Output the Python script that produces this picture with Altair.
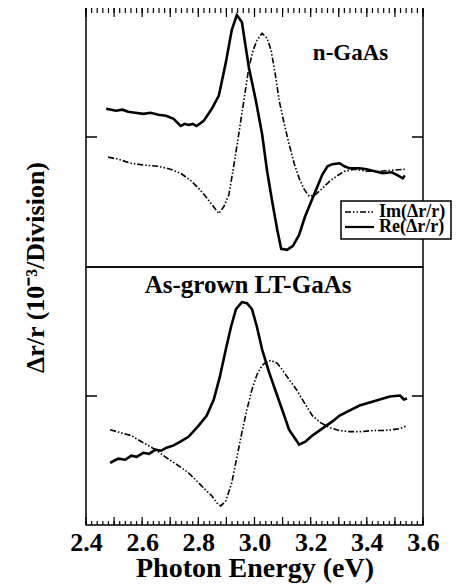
import altair as alt
import pandas as pd

# ---------------- data ----------------
top_re_x = [2.472, 2.507, 2.530, 2.550, 2.575, 2.604, 2.630, 2.658, 2.685, 2.712, 2.737, 2.752, 2.765, 2.780, 2.794,
            2.819, 2.848, 2.873, 2.898, 2.919, 2.937, 2.955, 2.980, 3.005, 3.027, 3.045, 3.063, 3.081, 3.095,
            3.116, 3.137, 3.159, 3.180, 3.202, 3.224, 3.242, 3.260, 3.277, 3.303, 3.320, 3.338, 3.374, 3.399,
            3.428, 3.457, 3.489, 3.510, 3.528, 3.535]
top_re_y = [0.217, 0.202, 0.210, 0.194, 0.186, 0.178, 0.186, 0.171, 0.163, 0.140, 0.085, 0.101, 0.093, 0.101, 0.085,
            0.124, 0.217, 0.318, 0.574, 0.822, 0.938, 0.884, 0.535, 0.279, 0.023, -0.264, -0.496, -0.713, -0.860,
            -0.868, -0.837, -0.752, -0.612, -0.496, -0.380, -0.287, -0.225, -0.209, -0.202, -0.225, -0.240,
            -0.240, -0.248, -0.264, -0.279, -0.271, -0.295, -0.318, -0.295]

top_im_x = [2.479, 2.515, 2.561, 2.611, 2.658, 2.701, 2.737, 2.772, 2.801, 2.826, 2.848, 2.873, 2.891, 2.909,
            2.926, 2.944, 2.962, 2.980, 2.995, 3.009, 3.027, 3.045, 3.059, 3.073, 3.088, 3.106, 3.123, 3.141,
            3.159, 3.177, 3.195, 3.217, 3.242, 3.267, 3.292, 3.320, 3.356, 3.399, 3.446, 3.489, 3.535]
top_im_y = [-0.155, -0.171, -0.202, -0.217, -0.225, -0.248, -0.279, -0.333, -0.395, -0.457, -0.519, -0.589,
            -0.535, -0.442, -0.225, 0.023, 0.279, 0.535, 0.667, 0.744, 0.798, 0.760, 0.667, 0.496, 0.279,
            0.101, -0.054, -0.202, -0.318, -0.403, -0.457, -0.442, -0.395, -0.341, -0.302, -0.264, -0.248,
            -0.264, -0.264, -0.256, -0.248]

bot_re_x = [2.486, 2.500, 2.515, 2.540, 2.561, 2.580, 2.604, 2.625, 2.647, 2.668, 2.687, 2.710, 2.730, 2.765,
            2.801, 2.830, 2.855, 2.876, 2.898, 2.916, 2.934, 2.955, 2.973, 2.991, 3.009, 3.027, 3.052, 3.077,
            3.102, 3.123, 3.145, 3.159, 3.181, 3.206, 3.231, 3.256, 3.281, 3.303, 3.338, 3.374, 3.410, 3.446,
            3.482, 3.518, 3.532, 3.543]
bot_re_y = [-0.518, -0.502, -0.486, -0.494, -0.463, -0.471, -0.440, -0.448, -0.416, -0.424, -0.401, -0.385,
            -0.362, -0.316, -0.230, -0.152, -0.027, 0.144, 0.362, 0.533, 0.673, 0.728, 0.720, 0.673, 0.533,
            0.362, 0.183, 0.027, -0.128, -0.261, -0.331, -0.377, -0.354, -0.307, -0.268, -0.230, -0.191,
            -0.152, -0.113, -0.074, -0.051, -0.027, -0.004, 0.004, -0.027, -0.019]

bot_im_x = [2.486, 2.522, 2.561, 2.604, 2.647, 2.687, 2.730, 2.765, 2.801, 2.826, 2.848, 2.866, 2.880, 2.898,
            2.919, 2.937, 2.955, 2.973, 2.991, 3.009, 3.027, 3.045, 3.059, 3.081, 3.098, 3.123, 3.149, 3.177,
            3.206, 3.235, 3.267, 3.303, 3.338, 3.381, 3.421, 3.457, 3.493, 3.518, 3.543]
bot_im_y = [-0.261, -0.284, -0.307, -0.362, -0.416, -0.479, -0.541, -0.595, -0.673, -0.728, -0.774, -0.829,
            -0.852, -0.813, -0.673, -0.479, -0.284, -0.105, 0.051, 0.167, 0.237, 0.268, 0.276, 0.253, 0.206,
            0.128, 0.051, -0.051, -0.152, -0.206, -0.245, -0.268, -0.276, -0.276, -0.268, -0.268, -0.261,
            -0.253, -0.230]

x_labels = [2.4, 2.6, 2.8, 3.0, 3.2, 3.4, 3.6]
minor_ticks = [round(2.4 + 0.02 * i, 2) for i in range(61)]
major_ticks = [round(2.4 + 0.1 * i, 1) for i in range(13)]

# ---------------- layout ----------------
W, H_TOP, H_BOT = 337, 260, 258
FONT = "Liberation Serif"
XDOM = [2.4, 3.6]
YDOM = [-1, 1]
SIDE_LEN = 11
DASH = [6, 2, 1.5, 2, 1.5, 2]

xs = alt.Scale(domain=XDOM, nice=False, zero=False)
ys = alt.Scale(domain=YDOM, nice=False, zero=False)


def series_df(x, y, name):
    return pd.DataFrame({"x": x, "y": y, "s": name})


def curves(re_x, re_y, im_x, im_y, xaxis, yaxis):
    re = alt.Chart(series_df(re_x, re_y, "Re")).mark_line(color="black", strokeWidth=2.6).encode(
        x=alt.X("x:Q", scale=xs, axis=xaxis), y=alt.Y("y:Q", scale=ys, axis=yaxis))
    im = alt.Chart(series_df(im_x, im_y, "Im")).mark_line(
        color="black", strokeWidth=1.6, strokeDash=DASH).encode(
        x=alt.X("x:Q", scale=xs, axis=xaxis), y=alt.Y("y:Q", scale=ys, axis=yaxis))
    return re, im


def side_ticks(yaxis):
    d = pd.DataFrame({"y": [0.0]})
    left = alt.Chart(d).mark_rule(color="black", strokeWidth=1.5).encode(
        y=alt.Y("y:Q", scale=ys, axis=yaxis), x=alt.value(0), x2=alt.value(SIDE_LEN))
    right = alt.Chart(d).mark_rule(color="black", strokeWidth=1.5).encode(
        y=alt.Y("y:Q", scale=ys, axis=yaxis), x=alt.value(W - SIDE_LEN), x2=alt.value(W))
    return left, right


def edge_ticks(values, y0, y1, xaxis):
    return alt.Chart(pd.DataFrame({"x": values})).mark_rule(color="black", strokeWidth=1.2).encode(
        x=alt.X("x:Q", scale=xs, axis=xaxis), y=alt.value(y0), y2=alt.value(y1))


# ---------- top panel ----------
re_t, im_t = curves(top_re_x, top_re_y, top_im_x, top_im_y, None, None)
lt, rt = side_ticks(None)
top_minor = edge_ticks(minor_ticks, 0, 6, None)
top_major = edge_ticks(major_ticks, 0, 10, None)

label_top = alt.Chart(pd.DataFrame({"x": [3.342], "y": [0.65], "t": ["n-GaAs"]})).mark_text(
    font=FONT, fontWeight="bold", fontSize=23, color="black", baseline="middle", align="center").encode(
    x=alt.X("x:Q", scale=xs, axis=None), y=alt.Y("y:Q", scale=ys, axis=None), text="t:N")

# legend (box + samples + text); kept inside the page width
LX0, LX1, LY0, LY1 = 255, 365, 194, 232
ROW1, ROW2 = 205, 220
leg_box = alt.Chart(pd.DataFrame({"a": [0]})).mark_rect(
    fill="white", stroke="black", strokeWidth=1.5).encode(
    x=alt.value(LX0), x2=alt.value(LX1), y=alt.value(LY0), y2=alt.value(LY1))
leg_im_line = alt.Chart(pd.DataFrame({"a": [0]})).mark_rule(
    color="black", strokeWidth=1.6, strokeDash=DASH).encode(
    x=alt.value(LX0 + 4), x2=alt.value(LX0 + 33), y=alt.value(ROW1))
leg_re_line = alt.Chart(pd.DataFrame({"a": [0]})).mark_rule(
    color="black", strokeWidth=2.2).encode(
    x=alt.value(LX0 + 4), x2=alt.value(LX0 + 33), y=alt.value(ROW2))
leg_text = alt.Chart(pd.DataFrame({"t": ["Im(\u0394r/r)", "Re(\u0394r/r)"], "yy": [ROW1, ROW2]})).mark_text(
    font=FONT, fontWeight="bold", fontSize=18, color="black", align="left", baseline="middle").encode(
    x=alt.value(LX0 + 38), y=alt.Y("yy:Q", scale=None), text="t:N")

top = alt.layer(re_t, im_t, lt, rt, top_minor, top_major, label_top,
                leg_box, leg_im_line, leg_re_line, leg_text).properties(width=W, height=H_TOP)

# ---------- bottom panel ----------
xaxis_bot = alt.Axis(values=x_labels, format=".1f", ticks=False, tickSize=0, domain=False, grid=False,
                     labelFlush=False, labelOverlap=False,
                     labelFont=FONT, labelFontWeight="bold", labelFontSize=26, labelColor="black",
                     labelPadding=4, title="Photon Energy (eV)", titleFont=FONT, titleFontWeight="bold",
                     titleFontSize=28, titleColor="black", titlePadding=-1)
yaxis_bot = alt.Axis(labels=False, ticks=False, domain=False, grid=False,
                     title="\u0394r/r (10\u207b\u00b3/Division)", titleFont=FONT, titleFontWeight="bold",
                     titleFontSize=26, titleColor="black", titleAngle=270, titleAlign="center",
                     titleBaseline="middle", titleX=-51, titleY=0)
re_b, im_b = curves(bot_re_x, bot_re_y, bot_im_x, bot_im_y, xaxis_bot, yaxis_bot)
lb, rb = side_ticks(yaxis_bot)
bot_minor = edge_ticks(minor_ticks, H_BOT, H_BOT - 4, xaxis_bot)
bot_major = edge_ticks(major_ticks, H_BOT, H_BOT - 8, xaxis_bot)

label_bot = alt.Chart(pd.DataFrame({"x": [2.977], "y": [0.86], "t": ["As-grown LT-GaAs"]})).mark_text(
    font=FONT, fontWeight="bold", fontSize=25, color="black", baseline="middle", align="center").encode(
    x=alt.X("x:Q", scale=xs, axis=xaxis_bot), y=alt.Y("y:Q", scale=ys, axis=yaxis_bot), text="t:N")

bottom = alt.layer(re_b, im_b, lb, rb, bot_minor, bot_major, label_bot).properties(width=W, height=H_BOT)

chart = alt.vconcat(top, bottom, spacing=0, bounds="flush").properties(
    padding={"left": 13, "top": -3, "right": 0, "bottom": 0},
    background="white",
).configure_view(stroke="black", strokeWidth=1.5)

chart.save("out.html", embed_options={"renderer": "svg", "actions": False})
